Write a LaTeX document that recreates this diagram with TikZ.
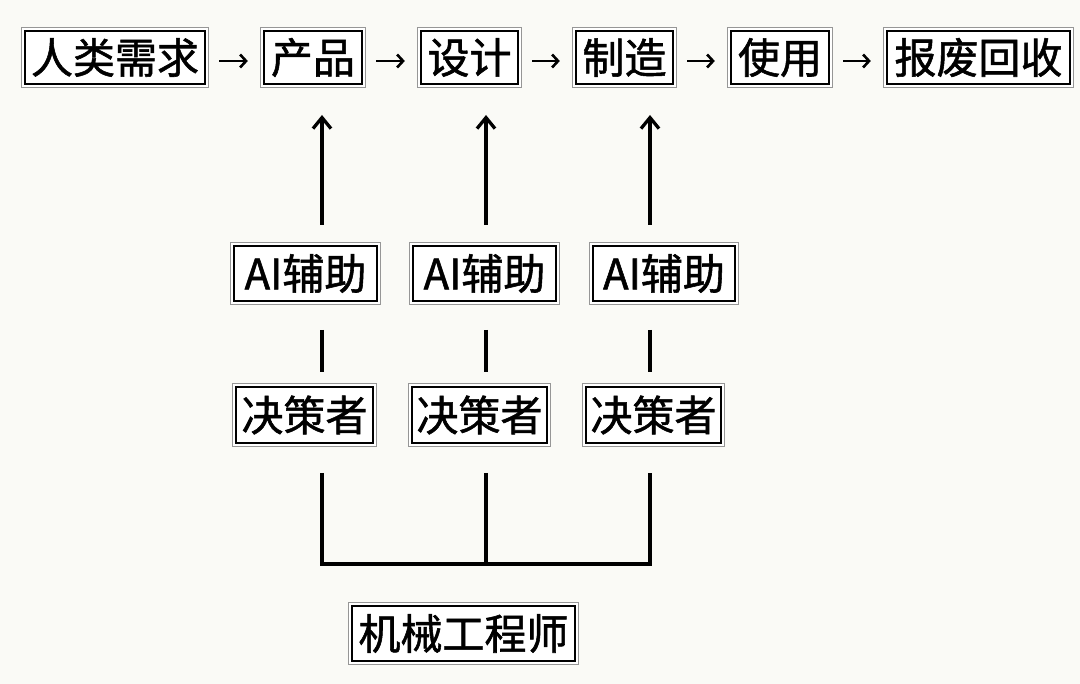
\documentclass[tikz,border=0pt]{standalone}
\usepackage{fontspec}
\newfontfamily\cjk[UprightFeatures={FakeBold=1.3}]{Noto Sans CJK SC}
\usetikzlibrary{arrows.meta}
\definecolor{bg}{RGB}{250,250,246}
\definecolor{ring}{RGB}{150,150,150}
\tikzset{
  box/.style={draw=black, line width=2.3pt, fill=white, inner sep=0pt,
    minimum height=53pt,
    font=\cjk\fontsize{42}{42}\selectfont,
    preaction={draw=ring, line width=8.8pt, rounded corners=1.5pt},
    preaction={draw=white, line width=6.4pt}},
  conn/.style={line width=3.3pt, draw=black},
  uparrow/.style={conn, -{Straight Barb[length=11pt,width=18pt,line width=3.3pt]}},
  smallarrow/.style={line width=2.6pt, draw=black, -{Straight Barb[length=6pt,width=13pt,line width=2.6pt]}}
}
\begin{document}
\begin{tikzpicture}[x=1pt,y=-1pt]
\fill[bg] (0,0) rectangle (1080,684);
\useasboundingbox (0,0) rectangle (1080,684);
% top row
\node[box, minimum width=180pt] (n1) at (115,57.5) {人类需求};
\node[box, minimum width=98pt]  (n2) at (313,57.5) {产品};
\node[box, minimum width=97pt]  (n3) at (469.5,57.5) {设计};
\node[box, minimum width=97pt]  (n4) at (624.5,57.5) {制造};
\node[box, minimum width=98pt]  (n5) at (780,57.5) {使用};
\node[box, minimum width=183pt] (n6) at (978.5,57.5) {报废回收};
\foreach \a/\b in {n1/n2,n2/n3,n3/n4,n4/n5,n5/n6}
  \draw[smallarrow] ([xshift=13pt,yshift=-3.5pt]\a.east) -- ([xshift=-15pt,yshift=-3.5pt]\b.west);
% AI row
\node[box, minimum width=143pt, minimum height=55pt] (ai1) at (305.5,273.5) {AI辅助};
\node[box, minimum width=143pt, minimum height=55pt] (ai2) at (484.5,273.5) {AI辅助};
\node[box, minimum width=142pt, minimum height=55pt] (ai3) at (664,273.5) {AI辅助};
% decision row
\node[box, minimum width=137pt, minimum height=56pt] (d1) at (304.5,415) {决策者};
\node[box, minimum width=135pt, minimum height=56pt] (d2) at (479.5,415) {决策者};
\node[box, minimum width=135pt, minimum height=56pt] (d3) at (653.5,415) {决策者};
% engineer
\node[box, minimum width=223pt, minimum height=55pt] (eng) at (463.5,633.5) {机械工程师};
% coordinates for connectors
\foreach \i/\x in {1/322,2/486,3/650}{
  \coordinate (ut\i) at (\x,115);
  \coordinate (ub\i) at (\x,225);
  \coordinate (mt\i) at (\x,330);
  \coordinate (mb\i) at (\x,372);
  \coordinate (bt\i) at (\x,473);
  \coordinate (bb\i) at (\x,564);
}
\foreach \i in {1,2,3}{
  \draw[uparrow] (ub\i) -- (ut\i);
  \draw[conn] (mt\i) -- (mb\i);
}
\draw[conn, line join=miter] (bt1) -- (bb1) -- (bb3) -- (bt3);
\draw[conn] (bt2) -- (bb2);
\end{tikzpicture}
\end{document}
